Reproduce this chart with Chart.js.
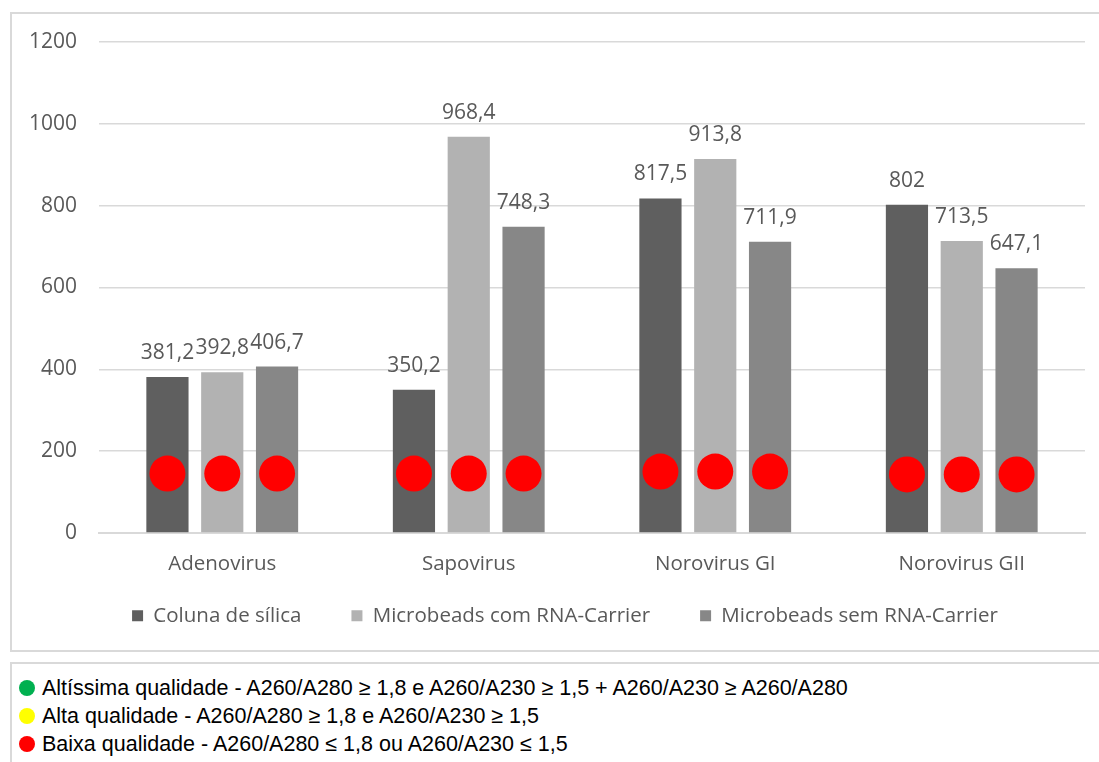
<!DOCTYPE html>
<html>
<head>
<meta charset="utf-8">
<script src="https://cdn.jsdelivr.net/npm/chart.js@4/dist/chart.umd.min.js"></script>
<style>
  body { margin: 0; background: #fff; width: 1099px; height: 762px; overflow: hidden; position: relative; font-family: "Liberation Sans", Arial, sans-serif; }
  #frame { position: absolute; left: 10px; top: 12px; width: 1100px; height: 640px; border: 2px solid #d9d9d9; border-right: none; box-sizing: border-box; }
  #wrap { position: absolute; left: 11px; top: 13px; width: 1088px; height: 638px; }
  #notes { position: absolute; left: 10px; top: 662px; width: 1100px; height: 110px; border-top: 2px solid #d9d9d9; border-left: 2px solid #d9d9d9; }
  .note { position: absolute; left: 30px; font-size: 21.5px; line-height: 24px; color: #000; white-space: nowrap; }
  .dot { position: absolute; left: -23px; top: 4px; width: 16px; height: 16px; border-radius: 50%; }
</style>
</head>
<body>
<div id="frame"></div>
<div id="wrap"><canvas id="c"></canvas></div>
<div id="notes">
  <div class="note" style="top:12px"><span class="dot" style="background:#00b050"></span>Altíssima qualidade - A260/A280 ≥ 1,8 e A260/A230 ≥ 1,5 + A260/A230 ≥ A260/A280</div>
  <div class="note" style="top:40px"><span class="dot" style="background:#ffff00"></span>Alta qualidade - A260/A280 ≥ 1,8 e A260/A230 ≥ 1,5</div>
  <div class="note" style="top:68px"><span class="dot" style="background:#ff0000"></span>Baixa qualidade - A260/A280 ≤ 1,8 ou A260/A230 ≤ 1,5</div>
</div>
<script>
const categorias = ['Adenovirus', 'Sapovirus', 'Norovirus GI', 'Norovirus GII'];
const series = ['Coluna de sílica', 'Microbeads com RNA-Carrier', 'Microbeads sem RNA-Carrier'];
const coluna = [381.2, 350.2, 817.5, 802];
const comCarrier = [392.8, 968.4, 913.8, 713.5];
const semCarrier = [406.7, 748.3, 711.9, 647.1];
const cores = ['#5f5f5f', '#b2b2b2', '#878787'];

// qualidade (bolinhas vermelhas) - altura no eixo y
const qualColuna = [145, 145, 150, 143];
const qualCom = [145, 145, 150, 143];
const qualSem = [145, 145, 150, 143];
const yTicks = [0, 200, 400, 600, 800, 1000, 1200];

const fonte = 'Open Sans';
const cinza = '#595959';

const fmt = v => String(v).replace('.', ',');

const rotulos = {
  id: 'rotulos',
  afterLayout(chart) {
    // legenda um pouco deslocada para a direita, como no original
    chart.legend.left += 34;
  },
  afterDatasetsDraw(chart) {
    const ctx = chart.ctx;
    const y = chart.scales.y;
    ctx.save();
    chart.data.datasets.forEach((ds, i) => {
      const meta = chart.getDatasetMeta(i);
      meta.data.forEach((bar, j) => {
        // bolinha de qualidade
        ctx.fillStyle = '#ff0000';
        ctx.beginPath();
        ctx.arc(bar.x, y.getPixelForValue(ds.qual[j]), 18, 0, Math.PI * 2);
        ctx.fill();
        // valor
        ctx.fillStyle = cinza;
        ctx.font = '21px "' + fonte + '"';
        ctx.textAlign = 'center';
        ctx.textBaseline = 'alphabetic';
        ctx.fillText(fmt(ds.data[j]), bar.x, bar.y - 18);
      });
    });
    ctx.restore();
  }
};

new Chart(document.getElementById('c'), {
  type: 'bar',
  data: {
    labels: categorias,
    datasets: [
      { label: series[0], data: coluna, qual: qualColuna, backgroundColor: cores[0] },
      { label: series[1], data: comCarrier, qual: qualCom, backgroundColor: cores[1] },
      { label: series[2], data: semCarrier, qual: qualSem, backgroundColor: cores[2] }
    ]
  },
  options: {
    responsive: true,
    maintainAspectRatio: false,
    animation: false,
    categoryPercentage: 0.667,
    barPercentage: 0.77,
    layout: { padding: { top: 29, right: 14, bottom: 15, left: 0 } },
    plugins: {
      legend: {
        position: 'bottom',
        labels: {
          color: cinza, font: { family: fonte, size: 20.5 }, boxWidth: 11, boxHeight: 11, padding: 18,
          // espaço extra entre os itens, como no Excel
          generateLabels(chart) {
            const itens = Chart.defaults.plugins.legend.labels.generateLabels(chart);
            itens.forEach((it, i) => { if (i < itens.length - 1) it.text += '      '; });
            return itens;
          }
        }
      },
      tooltip: { enabled: false }
    },
    scales: {
      x: {
        grid: { display: false },
        border: { color: '#d9d9d9', width: 2 },
        ticks: { color: cinza, font: { family: fonte, size: 20.5 }, padding: 11 }
      },
      y: {
        min: 0, max: 1200,
        afterFit(s) { s.width = 88; s.paddingTop = 0; s.paddingBottom = 0; },
        afterBuildTicks(s) { s.ticks = yTicks.map(v => ({ value: v })); },
        grid: { color: '#d9d9d9', lineWidth: 1.5, drawTicks: false },
        border: { display: false },
        ticks: { color: cinza, font: { family: fonte, size: 21 }, padding: 22, callback: v => String(v) }
      }
    }
  },
  plugins: [rotulos]
});
</script>
</body>
</html>
